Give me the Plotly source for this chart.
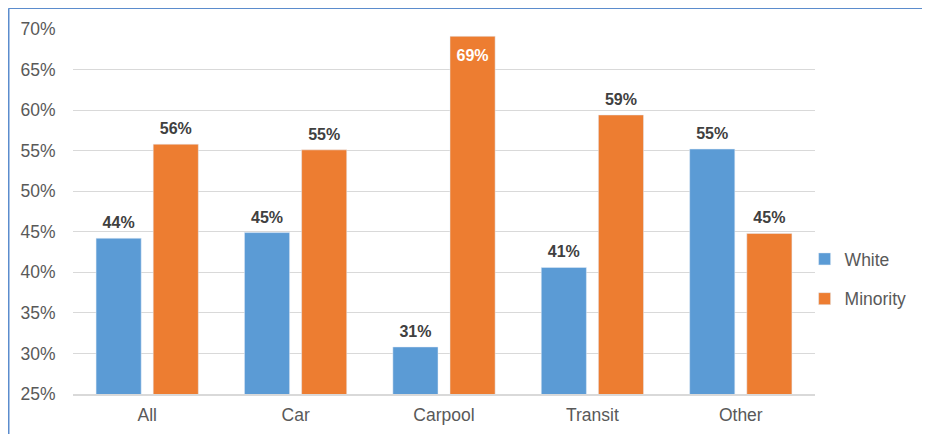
import plotly.graph_objects as go

categories = ["All", "Car", "Carpool", "Transit", "Other"]
white = [44.2, 44.9, 30.8, 40.6, 55.2]
minority = [55.8, 55.1, 69.1, 59.4, 44.8]
tick_vals = [25, 30, 35, 40, 45, 50, 55, 60, 65, 70]
tick_text = [f"{v}%" for v in tick_vals]

# page body adds an 8px offset; size figure to fit the window
W, H = 922, 426
ml, mt = 65, 21
pw, ph = 742, 365
mr, mb = W - ml - pw, H - mt - ph

FONT = "Liberation Sans, Arial"
BARGAP = 0.23

def labels(vals):
    return [f"{round(v):.0f}%" for v in vals]

def inside(v):
    return v > 67

def positions(vals):
    return ["bottom center" if inside(v) else "top center" for v in vals]

def colors(vals):
    return ["#ffffff" if inside(v) else "#404040" for v in vals]

def pads(vals):
    return [18 if inside(v) else 8 for v in vals]

fig = go.Figure()
series = [("White", white, "#5b9bd5", "w"), ("Minority", minority, "#ed7d31", "m")]
for name, vals, col, grp in series:
    fig.add_trace(go.Bar(
        x=categories, y=vals, name=name, marker_color=col,
        offsetgroup=grp, legendgroup=grp,
    ))
for name, vals, col, grp in series:
    fig.add_trace(go.Scatter(
        x=categories, y=vals, mode="markers+text", showlegend=False,
        marker=dict(size=pads(vals), opacity=0), hoverinfo="skip",
        text=labels(vals), textposition=positions(vals),
        textfont=dict(color=colors(vals), size=16, family=FONT, weight="bold"),
        offsetgroup=grp, legendgroup=grp, cliponaxis=False,
    ))

fig.update_layout(
    width=W, height=H,
    margin=dict(l=ml, r=mr, t=mt, b=mb, autoexpand=False),
    paper_bgcolor="white", plot_bgcolor="white",
    barmode="group", bargap=BARGAP, bargroupgap=0.21,
    scattermode="group", scattergap=BARGAP,
    font=dict(family=FONT, size=17.5, color="#595959"),
    legend=dict(x=0.986, y=0.315, xanchor="left", yanchor="middle",
                tracegroupgap=14, font=dict(size=17.5, color="#595959"),
                bgcolor="rgba(0,0,0,0)", itemwidth=30),
    showlegend=True,
)
fig.update_yaxes(range=[25, 70], tickvals=tick_vals, ticktext=tick_text,
                 showgrid=True, gridcolor="#d9d9d9", gridwidth=1,
                 zeroline=False, showline=False,
                 ticks="outside", ticklen=13, tickcolor="rgba(0,0,0,0)",
                 tickfont=dict(size=17.5, color="#595959"), automargin=False)
fig.update_xaxes(showline=True, linecolor="#d9d9d9", linewidth=1.5,
                 ticks="outside", ticklen=4, tickcolor="rgba(0,0,0,0)",
                 tickfont=dict(size=17.5, color="#595959"), automargin=False)

# chart border (top and left edges visible)
bx = (0.75 - ml) / pw
by = 1 + (mt - 0.25) / ph
fig.add_shape(type="line", xref="paper", yref="paper", x0=bx, x1=1 + (mr + 5) / pw,
              y0=by, y1=by, line=dict(color="#5b8ccd", width=1.5))
fig.add_shape(type="line", xref="paper", yref="paper", x0=bx, x1=bx,
              y0=by, y1=-(mb + 5) / ph, line=dict(color="#5b8ccd", width=1.5))

fig.write_html("out.html")
